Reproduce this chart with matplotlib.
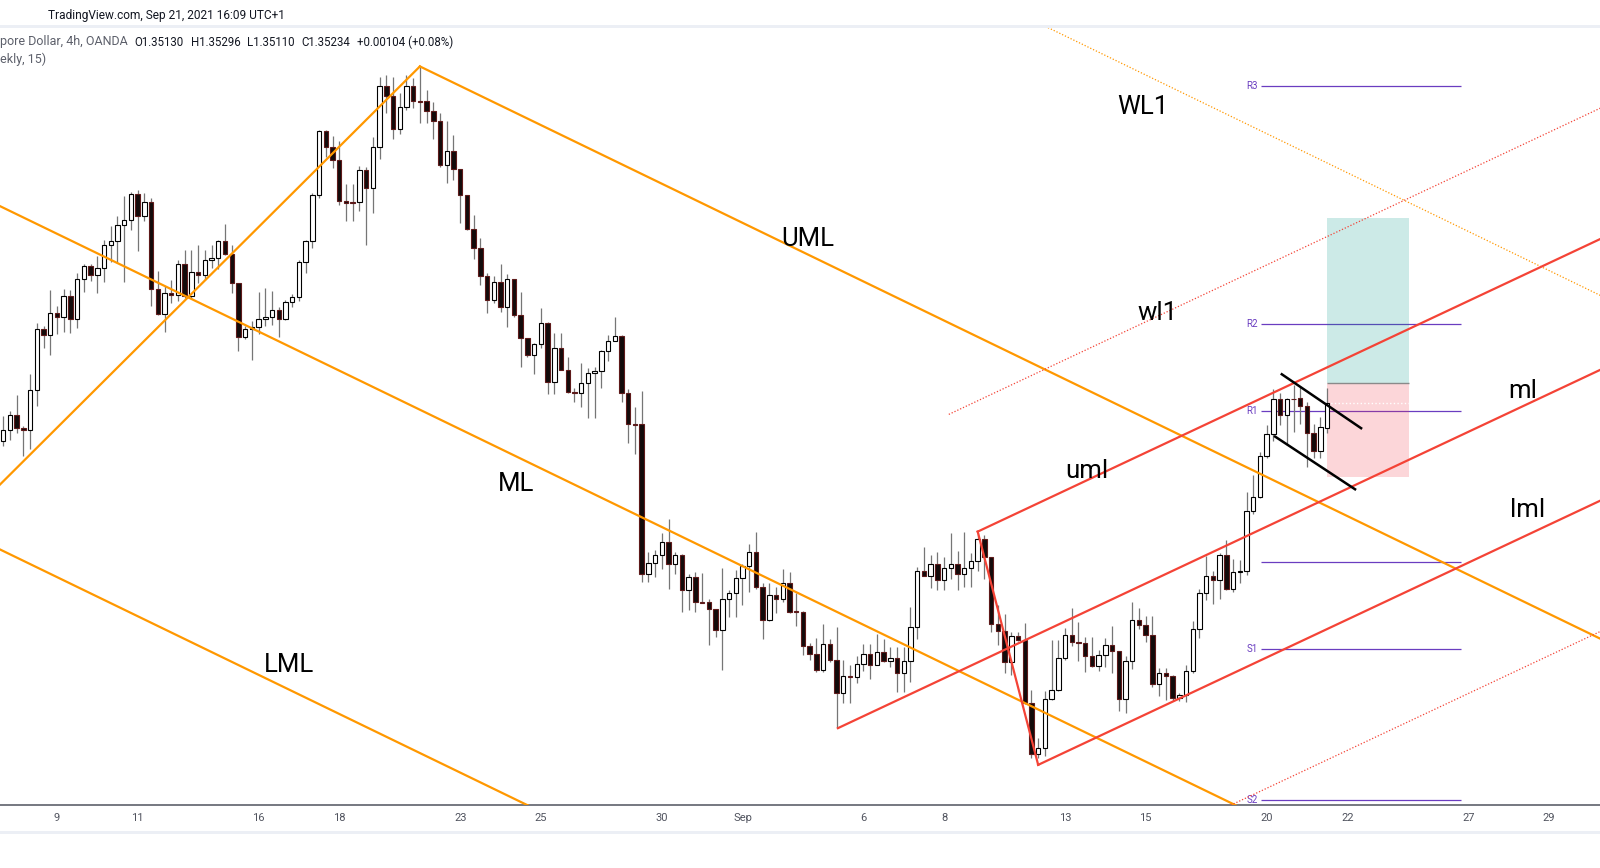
import numpy as np
import matplotlib.pyplot as plt
from matplotlib.patches import Rectangle

plt.rcParams['font.family'] = ['Roboto', 'DejaVu Sans']

W, H = 1600, 868

# USD/SGD 4h candles, bar 0 = first bar of Aug 9, 2021
first_bar = -8
opens = [
    1.35078, 1.35125, 1.35185, 1.35133, 1.35124, 1.35286, 1.35534, 1.35510,
    1.35599, 1.35583, 1.35668, 1.35574, 1.35737, 1.35790, 1.35753, 1.35781,
    1.35875, 1.35891, 1.35956, 1.35976, 1.36082, 1.35993, 1.36049, 1.35696,
    1.35595, 1.35680, 1.35672, 1.35798, 1.35668, 1.35764, 1.35752, 1.35813,
    1.35821, 1.35890, 1.35837, 1.35719, 1.35500, 1.35533, 1.35541, 1.35573,
    1.35581, 1.35610, 1.35573, 1.35642, 1.35663, 1.35805, 1.35890, 1.36078,
    1.36336, 1.36272, 1.36219, 1.36052, 1.36048, 1.36048, 1.36178, 1.36105,
    1.36272, 1.36519, 1.36479, 1.36345, 1.36434, 1.36519, 1.36460, 1.36458,
    1.36418, 1.36377, 1.36198, 1.36255, 1.36182, 1.36077, 1.35939, 1.35862,
    1.35748, 1.35650, 1.35724, 1.35622, 1.35736, 1.35590, 1.35496, 1.35427,
    1.35472, 1.35557, 1.35318, 1.35456, 1.35368, 1.35277, 1.35273, 1.35314,
    1.35354, 1.35362, 1.35443, 1.35487, 1.35504, 1.35272, 1.35146, 1.35146,
    1.34539, 1.34585, 1.34615, 1.34667, 1.34578, 1.34615, 1.34473, 1.34525,
    1.34424, 1.34424, 1.34396, 1.34310, 1.34436, 1.34460, 1.34521, 1.34570,
    1.34627, 1.34485, 1.34351, 1.34452, 1.34436, 1.34501, 1.34386, 1.34386,
    1.34245, 1.34213, 1.34148, 1.34253, 1.34189, 1.34054, 1.34124, 1.34119,
    1.34172, 1.34213, 1.34168, 1.34221, 1.34184, 1.34197, 1.34136, 1.34184,
    1.34322, 1.34550, 1.34529, 1.34578, 1.34514, 1.34562, 1.34578, 1.34538,
    1.34562, 1.34591, 1.34680, 1.34607, 1.34335, 1.34307, 1.34181, 1.34286,
    1.34270, 1.34014, 1.33807, 1.33832, 1.34030, 1.34067, 1.34197, 1.34290,
    1.34261, 1.34258, 1.34205, 1.34164, 1.34209, 1.34250, 1.34225, 1.34030,
    1.34186, 1.34351, 1.34331, 1.34290, 1.34093, 1.34136, 1.34125, 1.34035,
    1.34047, 1.34144, 1.34315, 1.34461, 1.34530, 1.34514, 1.34615, 1.34477,
    1.34546, 1.34550, 1.34794, 1.34851, 1.35017, 1.35106, 1.35248, 1.35183,
    1.35251, 1.35252, 1.35220, 1.35110, 1.35037, 1.35130,
]
highs = [
    1.35179, 1.35200, 1.35267, 1.35139, 1.35353, 1.35558, 1.35545, 1.35694,
    1.35626, 1.35698, 1.35694, 1.35761, 1.35799, 1.35799, 1.35829, 1.35896,
    1.35951, 1.35991, 1.36072, 1.36090, 1.36099, 1.36086, 1.36066, 1.35768,
    1.35707, 1.35734, 1.35813, 1.35856, 1.35856, 1.35875, 1.35855, 1.35875,
    1.35895, 1.35960, 1.35875, 1.35722, 1.35544, 1.35567, 1.35683, 1.35699,
    1.35688, 1.35622, 1.35652, 1.35675, 1.35814, 1.35895, 1.36085, 1.36342,
    1.36342, 1.36318, 1.36297, 1.36123, 1.36123, 1.36196, 1.36193, 1.36312,
    1.36556, 1.36565, 1.36558, 1.36491, 1.36565, 1.36552, 1.36599, 1.36504,
    1.36457, 1.36412, 1.36378, 1.36322, 1.36185, 1.36079, 1.35997, 1.35902,
    1.35760, 1.35747, 1.35798, 1.35756, 1.35738, 1.35682, 1.35498, 1.35476,
    1.35618, 1.35564, 1.35517, 1.35517, 1.35422, 1.35293, 1.35395, 1.35374,
    1.35381, 1.35449, 1.35510, 1.35583, 1.35510, 1.35290, 1.35218, 1.35282,
    1.34628, 1.34636, 1.34704, 1.34762, 1.34628, 1.34621, 1.34539, 1.34547,
    1.34542, 1.34436, 1.34398, 1.34563, 1.34474, 1.34555, 1.34578, 1.34661,
    1.34708, 1.34501, 1.34501, 1.34485, 1.34558, 1.34547, 1.34463, 1.34388,
    1.34258, 1.34278, 1.34335, 1.34274, 1.34323, 1.34190, 1.34170, 1.34206,
    1.34253, 1.34253, 1.34294, 1.34274, 1.34244, 1.34244, 1.34241, 1.34405,
    1.34566, 1.34649, 1.34616, 1.34627, 1.34610, 1.34704, 1.34633, 1.34708,
    1.34623, 1.34704, 1.34698, 1.34609, 1.34413, 1.34377, 1.34302, 1.34303,
    1.34339, 1.34068, 1.33872, 1.34062, 1.34271, 1.34271, 1.34319, 1.34400,
    1.34343, 1.34285, 1.34285, 1.34231, 1.34278, 1.34328, 1.34224, 1.34208,
    1.34424, 1.34400, 1.34368, 1.34368, 1.34156, 1.34156, 1.34128, 1.34055,
    1.34170, 1.34350, 1.34480, 1.34612, 1.34550, 1.34623, 1.34677, 1.34599,
    1.34596, 1.34870, 1.34940, 1.35036, 1.35144, 1.35289, 1.35273, 1.35252,
    1.35307, 1.35302, 1.35236, 1.35148, 1.35175, 1.35296,
]
lows = [
    1.35058, 1.35085, 1.35112, 1.35017, 1.35047, 1.35220, 1.35457, 1.35430,
    1.35514, 1.35520, 1.35518, 1.35537, 1.35683, 1.35727, 1.35680, 1.35725,
    1.35806, 1.35802, 1.35723, 1.35937, 1.35849, 1.35971, 1.35629, 1.35590,
    1.35522, 1.35639, 1.35646, 1.35660, 1.35656, 1.35719, 1.35733, 1.35780,
    1.35778, 1.35834, 1.35679, 1.35446, 1.35492, 1.35408, 1.35514, 1.35544,
    1.35550, 1.35503, 1.35571, 1.35625, 1.35649, 1.35763, 1.35864, 1.36064,
    1.36234, 1.36189, 1.36037, 1.35974, 1.35974, 1.36014, 1.35875, 1.36004,
    1.36226, 1.36410, 1.36304, 1.36326, 1.36423, 1.36430, 1.36369, 1.36369,
    1.36307, 1.36193, 1.36128, 1.36139, 1.35963, 1.35936, 1.35818, 1.35713,
    1.35598, 1.35638, 1.35604, 1.35541, 1.35584, 1.35381, 1.35422, 1.35350,
    1.35456, 1.35269, 1.35269, 1.35366, 1.35273, 1.35236, 1.35219, 1.35172,
    1.35172, 1.35296, 1.35402, 1.35485, 1.35239, 1.35072, 1.35025, 1.34505,
    1.34505, 1.34525, 1.34558, 1.34479, 1.34538, 1.34383, 1.34391, 1.34383,
    1.34420, 1.34249, 1.34285, 1.34148, 1.34366, 1.34366, 1.34413, 1.34467,
    1.34477, 1.34274, 1.34347, 1.34382, 1.34424, 1.34380, 1.34327, 1.34209,
    1.34189, 1.34143, 1.34143, 1.34180, 1.33913, 1.34016, 1.34015, 1.34095,
    1.34145, 1.34111, 1.34168, 1.34180, 1.34160, 1.34058, 1.34058, 1.34099,
    1.34274, 1.34529, 1.34481, 1.34474, 1.34474, 1.34518, 1.34472, 1.34488,
    1.34488, 1.34551, 1.34518, 1.34305, 1.34252, 1.34139, 1.34127, 1.34268,
    1.34012, 1.33791, 1.33791, 1.33798, 1.34028, 1.34065, 1.34190, 1.34248,
    1.34187, 1.34143, 1.34160, 1.34147, 1.34163, 1.34136, 1.33984, 1.33974,
    1.34152, 1.34315, 1.34261, 1.34079, 1.34044, 1.34028, 1.34025, 1.34025,
    1.34021, 1.34136, 1.34278, 1.34434, 1.34416, 1.34438, 1.34474, 1.34465,
    1.34501, 1.34535, 1.34782, 1.34847, 1.35009, 1.35078, 1.35144, 1.35063,
    1.35117, 1.35147, 1.34975, 1.35009, 1.35009, 1.35110,
]
closes = [
    1.35125, 1.35185, 1.35132, 1.35125, 1.35286, 1.35534, 1.35510, 1.35599,
    1.35583, 1.35668, 1.35576, 1.35737, 1.35790, 1.35753, 1.35781, 1.35875,
    1.35891, 1.35956, 1.35976, 1.36082, 1.35993, 1.36049, 1.35696, 1.35595,
    1.35680, 1.35672, 1.35798, 1.35668, 1.35765, 1.35752, 1.35813, 1.35821,
    1.35890, 1.35837, 1.35719, 1.35500, 1.35533, 1.35541, 1.35573, 1.35581,
    1.35610, 1.35573, 1.35642, 1.35663, 1.35805, 1.35890, 1.36078, 1.36336,
    1.36272, 1.36219, 1.36052, 1.36044, 1.36044, 1.36178, 1.36105, 1.36272,
    1.36519, 1.36479, 1.36345, 1.36434, 1.36519, 1.36458, 1.36457, 1.36418,
    1.36377, 1.36198, 1.36255, 1.36182, 1.36077, 1.35939, 1.35862, 1.35748,
    1.35650, 1.35724, 1.35622, 1.35736, 1.35590, 1.35496, 1.35427, 1.35472,
    1.35557, 1.35318, 1.35456, 1.35368, 1.35277, 1.35273, 1.35314, 1.35354,
    1.35362, 1.35443, 1.35487, 1.35504, 1.35273, 1.35146, 1.35144, 1.34539,
    1.34585, 1.34615, 1.34667, 1.34578, 1.34615, 1.34473, 1.34525, 1.34424,
    1.34423, 1.34396, 1.34310, 1.34436, 1.34460, 1.34521, 1.34570, 1.34627,
    1.34485, 1.34351, 1.34452, 1.34436, 1.34501, 1.34383, 1.34385, 1.34245,
    1.34213, 1.34148, 1.34253, 1.34189, 1.34054, 1.34124, 1.34119, 1.34172,
    1.34213, 1.34168, 1.34221, 1.34184, 1.34197, 1.34136, 1.34184, 1.34322,
    1.34550, 1.34529, 1.34578, 1.34514, 1.34562, 1.34578, 1.34538, 1.34562,
    1.34591, 1.34680, 1.34607, 1.34335, 1.34307, 1.34181, 1.34286, 1.34270,
    1.34014, 1.33807, 1.33832, 1.34030, 1.34067, 1.34197, 1.34290, 1.34262,
    1.34258, 1.34205, 1.34164, 1.34209, 1.34250, 1.34225, 1.34030, 1.34185,
    1.34351, 1.34331, 1.34290, 1.34093, 1.34136, 1.34125, 1.34035, 1.34047,
    1.34144, 1.34315, 1.34461, 1.34530, 1.34514, 1.34615, 1.34477, 1.34546,
    1.34550, 1.34794, 1.34851, 1.35017, 1.35106, 1.35248, 1.35183, 1.35248,
    1.35248, 1.35220, 1.35110, 1.35037, 1.35135, 1.35234,
]
bars = np.arange(first_bar, first_bar + len(opens))

date_bars = [0, 12, 30, 42, 60, 72, 90, 102, 120, 132, 150, 162, 180, 192, 210, 222]
date_labels = ['9', '11', '16', '18', '23', '25', '30', 'Sep',
               '6', '8', '13', '15', '20', '22', '27', '29']

# weekly classic pivots for the week of Sep 20 (P label sits under the candles)
pivot_names = ['R3', 'R2', 'R1', '', 'S1', 'S2']
pivot_levels = [1.36522, 1.35556, 1.35201, 1.34588, 1.34235, 1.33622]
pivot_span = (179.2, 208.9)

# long position tool
pos_span = (189.0, 201.2)
pos_entry, pos_target, pos_stop = 1.35313, 1.35985, 1.34934

# big pitchfork (orange), B and C points, slope per bar, prong width
fork1_b = (54, 1.36600)
fork1_c = (-15, 1.34725)
fork1_slope = -0.0001323
fork1_width = 0.01394

# small pitchfork (red), A B C points
fork2_a = (116.2, 1.33913)
fork2_b = (137, 1.34711)
fork2_c = (146, 1.33764)
fork2_wl_start = 132.7

# flag lines
flag_top = [(182.25, 1.35350), (194.05, 1.35131)]
flag_bottom = [(181.25, 1.35097), (193.15, 1.34883)]

x_lo, x_hi = -8.48, 229.6
y_lo, y_hi = 1.33601, 1.36760


def fp(x, y):
    return x / W, 1 - y / H


fig = plt.figure(figsize=(W / 100, H / 100), dpi=100)
fig.patch.set_facecolor('white')
ax = fig.add_axes([0, (H - 805) / H, 1, (805 - 27) / H])
ax.set_xlim(x_lo, x_hi)
ax.set_ylim(y_lo, y_hi)
for s in ['top', 'right', 'left']:
    ax.spines[s].set_visible(False)
ax.spines['bottom'].set_color('#50535e')
ax.spines['bottom'].set_linewidth(1.1)
ax.set_yticks([])
ax.set_xticks(date_bars)
ax.set_xticklabels(date_labels)
ax.tick_params(axis='x', length=0, pad=6, labelsize=8, labelcolor='#50535e')

# candles
o = np.array(opens)
c = np.array(closes)
up = c >= o
ax.vlines(bars, lows, highs, color='#767676', lw=0.9, zorder=2)
body_h = np.maximum(np.abs(c - o), 0.00002)
body_b = np.minimum(o, c)
ax.bar(bars[up], body_h[up], bottom=body_b[up], width=0.66,
       color='white', edgecolor='black', linewidth=0.8, zorder=3)
ax.bar(bars[~up], body_h[~up], bottom=body_b[~up], width=0.66,
       color='#120b0b', edgecolor='#5e1a1a', linewidth=0.8, zorder=3)

# pivot lines
piv_col = '#6a3dc0'
for name, lvl in zip(pivot_names, pivot_levels):
    ax.hlines(lvl, *pivot_span, color=piv_col, lw=0.9, zorder=1)
    if name:
        ax.text(pivot_span[0] - 0.5, lvl, name, color=piv_col, fontsize=7,
                ha='right', va='center', zorder=1)

# position tool
ax.add_patch(Rectangle((pos_span[0], pos_entry), pos_span[1] - pos_span[0],
                       pos_target - pos_entry, facecolor=(0, 150 / 255, 136 / 255, 0.2),
                       edgecolor='none', zorder=1.5))
ax.add_patch(Rectangle((pos_span[0], pos_stop), pos_span[1] - pos_span[0],
                       pos_entry - pos_stop, facecolor=(242 / 255, 54 / 255, 69 / 255, 0.2),
                       edgecolor='none', zorder=1.5))
ax.hlines(pos_entry, *pos_span, color='#8a8a8a', lw=1, zorder=1.6)
ax.hlines(closes[-1], *pos_span, color='white', lw=1, linestyles=':', zorder=1.6)

# orange pitchfork
orange = '#ff9800'


def uml1(x):
    return fork1_b[1] + fork1_slope * (np.asarray(x) - fork1_b[0])


xs = np.array([fork1_b[0], 240])
ax.plot(xs, uml1(xs), color=orange, lw=1.6, zorder=4)
xs = np.array([-30, 240])
ax.plot(xs, uml1(xs) - fork1_width, color=orange, lw=1.6, zorder=4)
xs = np.array([fork1_c[0], 240])
ax.plot(xs, uml1(xs) - 2 * fork1_width, color=orange, lw=1.6, zorder=4)
ax.plot([fork1_c[0], fork1_b[0]], [fork1_c[1], fork1_b[1]], color=orange, lw=1.6, zorder=4)
xs = np.array([fork1_b[0], 240])
ax.plot(xs, uml1(xs) + fork1_width, color=orange, lw=0.9, ls=(0, (1, 1.5)), zorder=4)

# red pitchfork
red = '#f44336'
mid2 = ((fork2_b[0] + fork2_c[0]) / 2, (fork2_b[1] + fork2_c[1]) / 2)
slope2 = (mid2[1] - fork2_a[1]) / (mid2[0] - fork2_a[0])
width2 = fork2_b[1] + slope2 * (mid2[0] - fork2_b[0]) - mid2[1]


def ml2(x):
    return fork2_a[1] + slope2 * (np.asarray(x) - fork2_a[0])


xs = np.array([fork2_a[0], 240])
ax.plot(xs, ml2(xs), color=red, lw=1.6, zorder=4)
xs = np.array([fork2_b[0], 240])
ax.plot(xs, ml2(xs) + width2, color=red, lw=1.6, zorder=4)
xs = np.array([fork2_c[0], 240])
ax.plot(xs, ml2(xs) - width2, color=red, lw=1.6, zorder=4)
ax.plot([fork2_b[0], fork2_c[0]], [fork2_b[1], fork2_c[1]], color=red, lw=1.6, zorder=4)
xs = np.array([fork2_wl_start, 240])
ax.plot(xs, ml2(xs) + 2 * width2, color=red, lw=0.9, ls=(0, (1, 1.5)), zorder=4)
xs = np.array([fork2_c[0], 240])
ax.plot(xs, ml2(xs) - 2 * width2, color=red, lw=0.9, ls=(0, (1, 1.5)), zorder=4)

# flag
for seg in (flag_top, flag_bottom):
    ax.plot([seg[0][0], seg[1][0]], [seg[0][1], seg[1][1]], color='black', lw=1.8, zorder=4)

# line labels
labels = [('UML', 808, 246.5), ('ML', 516, 490.5), ('LML', 289, 672.5),
          ('WL1', 1143, 114), ('wl1', 1158, 320), ('uml', 1087, 478.5),
          ('ml', 1523, 398), ('lml', 1528, 517)]
for txt, lx, ly in labels:
    fig.text(*fp(lx, ly), txt, fontsize=18.5, color='black', ha='center',
             va='baseline', zorder=6)

# header
fig.add_artist(Rectangle(fp(0, 27.5), 1, 2.5 / H, transform=fig.transFigure,
                         facecolor='#eceff5', edgecolor='none'))
fig.add_artist(Rectangle(fp(0, 834), 1, 3 / H, transform=fig.transFigure,
                         facecolor='#eceff5', edgecolor='none'))
fig.text(*fp(48, 15), 'TradingView.com, Sep 21, 2021 16:09 UTC+1', fontsize=8.6,
         color='#131722', ha='left', va='center')
legend_parts = [('pore Dollar, 4h, OANDA', 0, '#5d606b', 9.0), ('O1.35130', 134, '#131722', 8.3),
                ('H1.35296', 191, '#131722', 8.3), ('L1.35110', 247, '#131722', 8.3),
                ('C1.35234', 301, '#131722', 8.3), ('+0.00104 (+0.08%)', 357, '#131722', 8.3)]
for txt, lx, col, fs in legend_parts:
    fig.text(*fp(lx, 42), txt, fontsize=fs, color=col, ha='left', va='center', zorder=7)
fig.text(*fp(0, 59), 'ekly, 15)', fontsize=9.0, color='#5d606b', ha='left', va='center', zorder=7)

fig.savefig('out.png', dpi=100)
